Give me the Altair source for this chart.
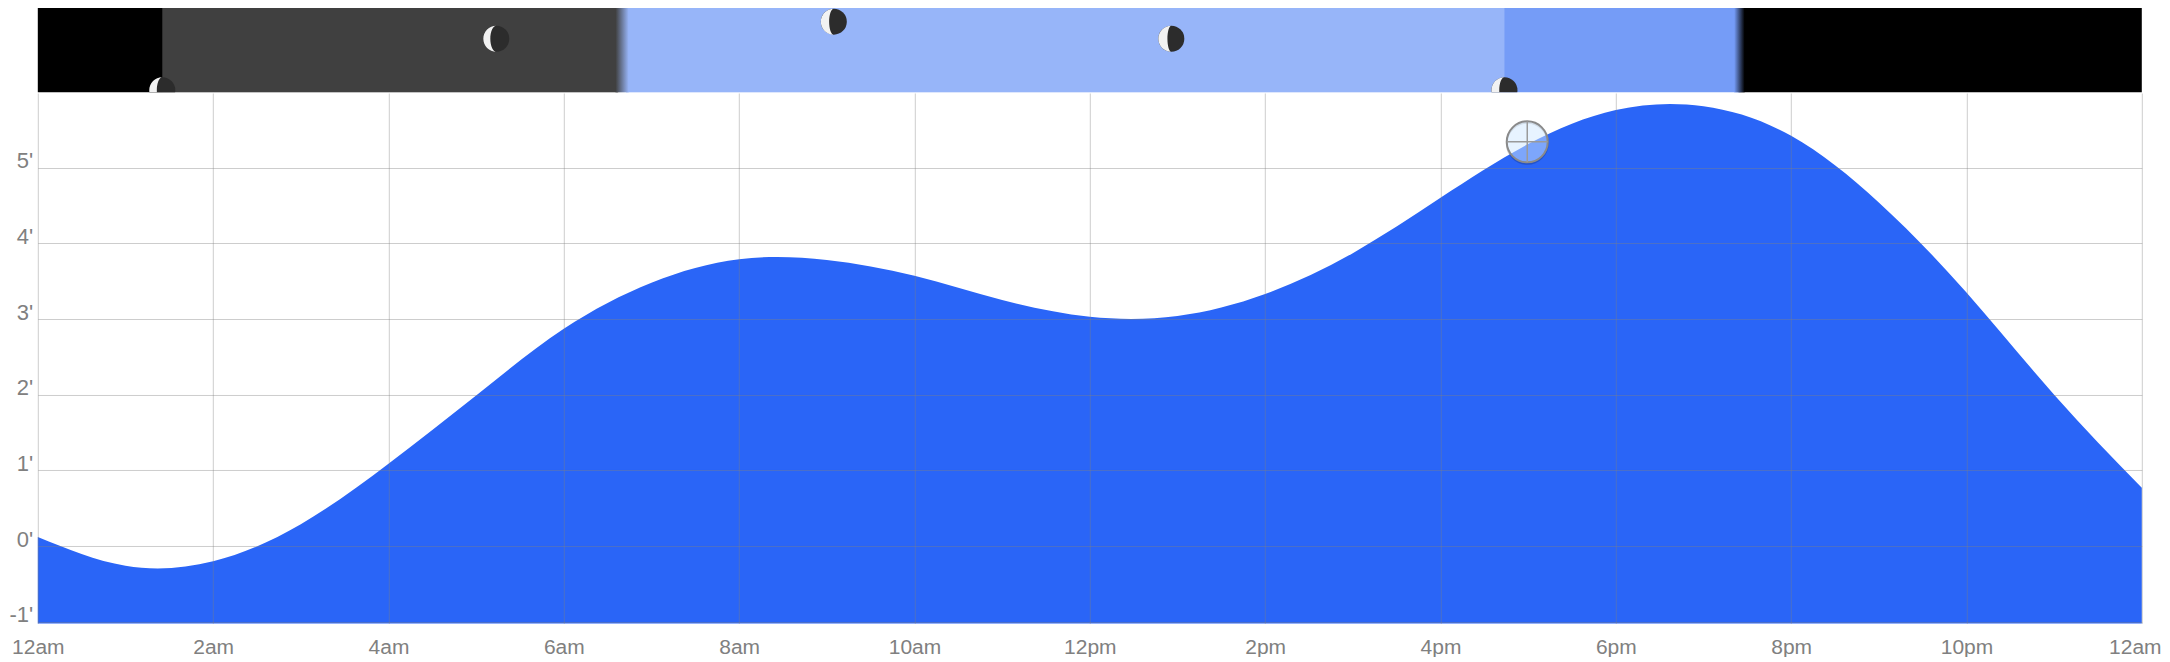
import altair as alt
import pandas as pd

# Tide curve (hours after midnight, height in feet)
tide_hours = list(range(25))
tide_feet = [0.12, -0.26, -0.20, 0.29, 1.09, 1.99, 2.87, 3.48, 3.79, 3.78, 3.57, 3.25, 3.03,
             3.04, 3.33, 3.87, 4.60, 5.31, 5.76, 5.81, 5.42, 4.54, 3.35, 2.0, 0.77]

x_ticks = list(range(0, 25, 2))
y_ticks = [-1, 0, 1, 2, 3, 4, 5]

# Daylight strip
night_start = [0, 19.4]
night_end = [6.62, 24]
day_start = [6.71]
day_end = [19.42]
dawn = [6.59, 6.74]
dusk = [19.35, 19.47]
moon_up = [1.42, 16.73]

# Moon glyph positions (hour, relative height in strip, lit fraction)
moon_hours = [1.42, 5.23, 9.08, 12.93, 16.73]
moon_alt = [0.024, 0.636, 0.838, 0.636, 0.024]
moon_lit = [0.29, 0.27, 0.32, 0.35, 0.30]

# Current reading marker
now_hour = [16.99]
now_feet = [5.34]

FONT = "Liberation Sans"
TEXT = "#808080"
BLUE = "#2a65f7"
SKY = "#759cf7"

x_dom = alt.Scale(domain=[0, 24], nice=False, zero=False)
y_dom = alt.Scale(domain=[-1.02, 5.985], nice=False, zero=False)
s_dom = alt.Scale(domain=[0, 1])


def span(starts, ends):
    return pd.DataFrame({"a": starts, "b": ends})


def sky_rect(df, **kw):
    return alt.Chart(df).mark_rect(**kw).encode(
        x=alt.X("a:Q", scale=x_dom, axis=None),
        x2="b:Q",
    )


def grad(c1, c2):
    return alt.Gradient(
        gradient="linear", x1=0, x2=1, y1=0, y2=0,
        stops=[alt.GradientStop(offset=0, color=c1), alt.GradientStop(offset=1, color=c2)],
    )


night = sky_rect(span(night_start, night_end), color="#000000")
day = sky_rect(span(day_start, day_end), color=SKY)
dawn_r = sky_rect(span([dawn[0]], [dawn[1]]), color=grad("#000000", SKY))
dusk_r = sky_rect(span([dusk[0]], [dusk[1]]), color=grad(SKY, "#000000"))
glow = sky_rect(span([moon_up[0]], [moon_up[1]]), color="#ffffff", opacity=0.25)

moons = pd.DataFrame({"h": moon_hours, "v": moon_alt, "lit": moon_lit})
moons["path"] = [
    f"M0,-1 A1,1 0 0,0 0,1 A{1 - 2 * f:.3f},1 0 0,1 0,-1" for f in moon_lit
]
moon_x = alt.X("h:Q", scale=x_dom, axis=None)
moon_y = alt.Y("v:Q", scale=s_dom, axis=None)
moon_disc = alt.Chart(moons).mark_point(
    filled=True, size=676, shape="circle", color="#2c2c2c", opacity=1, clip=True
).encode(x=moon_x, y=moon_y)
moon_lit_m = alt.Chart(moons).mark_point(
    filled=True, size=676, color="#f2f2f2", opacity=1, clip=True
).encode(x=moon_x, y=moon_y, shape=alt.Shape("path:N", scale=None, legend=None))

strip = alt.layer(night, day, dawn_r, dusk_r, glow, moon_disc, moon_lit_m).properties(
    width=2104, height=84.3
)

tide = pd.DataFrame({"h": tide_hours, "ft": tide_feet})
x_axis = alt.Axis(
    values=x_ticks, title=None, grid=True, domain=False, ticks=False, zindex=1,
    gridColor="#808080", gridOpacity=0.4, gridWidth=1,
    labelFont=FONT, labelFontSize=21, labelColor=TEXT, labelPadding=13, labelFlush=False,
    labelOverlap=False,
    labelOffset={"expr": "datum.value == 24 ? -7 : 0"},
    labelExpr="datum.value % 24 == 0 ? '12am' : datum.value == 12 ? '12pm' : "
              "datum.value < 12 ? datum.value + 'am' : (datum.value - 12) + 'pm'",
)
y_axis = alt.Axis(
    values=y_ticks, title=None, grid=True, domain=False, ticks=False, zindex=1,
    gridColor="#808080", gridOpacity=0.4, gridWidth=1,
    labelFont=FONT, labelFontSize=22, labelColor=TEXT, labelPadding=5, labelOffset=-7,
    labelFlush=False, labelOverlap=False,
    labelExpr="datum.value + \"'\"",
)
area = alt.Chart(tide).mark_area(color=BLUE, interpolate="natural", opacity=1).encode(
    x=alt.X("h:Q", scale=x_dom, axis=x_axis),
    y=alt.Y("ft:Q", scale=y_dom, axis=y_axis, stack=None),
    y2=alt.datum(-1.02),
)

now = pd.DataFrame({"h": now_hour, "ft": now_feet})
now_x = alt.X("h:Q", scale=x_dom)
now_y = alt.Y("ft:Q", scale=y_dom)
shadow = alt.Chart(now).mark_point(
    filled=False, size=1681, shape="circle", stroke="#000000", strokeOpacity=0.18,
    strokeWidth=2, yOffset=1.5, opacity=1,
).encode(x=now_x, y=now_y)
ring = alt.Chart(now).mark_point(
    filled=True, size=1681, shape="circle", fill="#cfe8ff", fillOpacity=0.5,
    stroke="#8a8a8a", strokeWidth=2, opacity=1,
).encode(x=now_x, y=now_y)
cross = alt.Chart(now).mark_point(
    filled=False, size=1681, shape="M-1,0 L1,0 M0,-1 L0,1", stroke="#9a9a9a",
    strokeWidth=1.5, opacity=1,
).encode(x=now_x, y=now_y)

main = alt.layer(area, shadow, ring, cross).properties(width=2104, height=530.4)

chart = (
    alt.vconcat(strip, main, spacing=0)
    .resolve_scale(x="independent", y="independent")
    .configure_view(stroke=None)
    .configure_concat(spacing=0)
    .properties(padding={"left": 0.8, "top": 0, "right": 0, "bottom": -1},
                background="#ffffff")
)
chart.save("out.html", embed_options={"renderer": "svg", "actions": False})
